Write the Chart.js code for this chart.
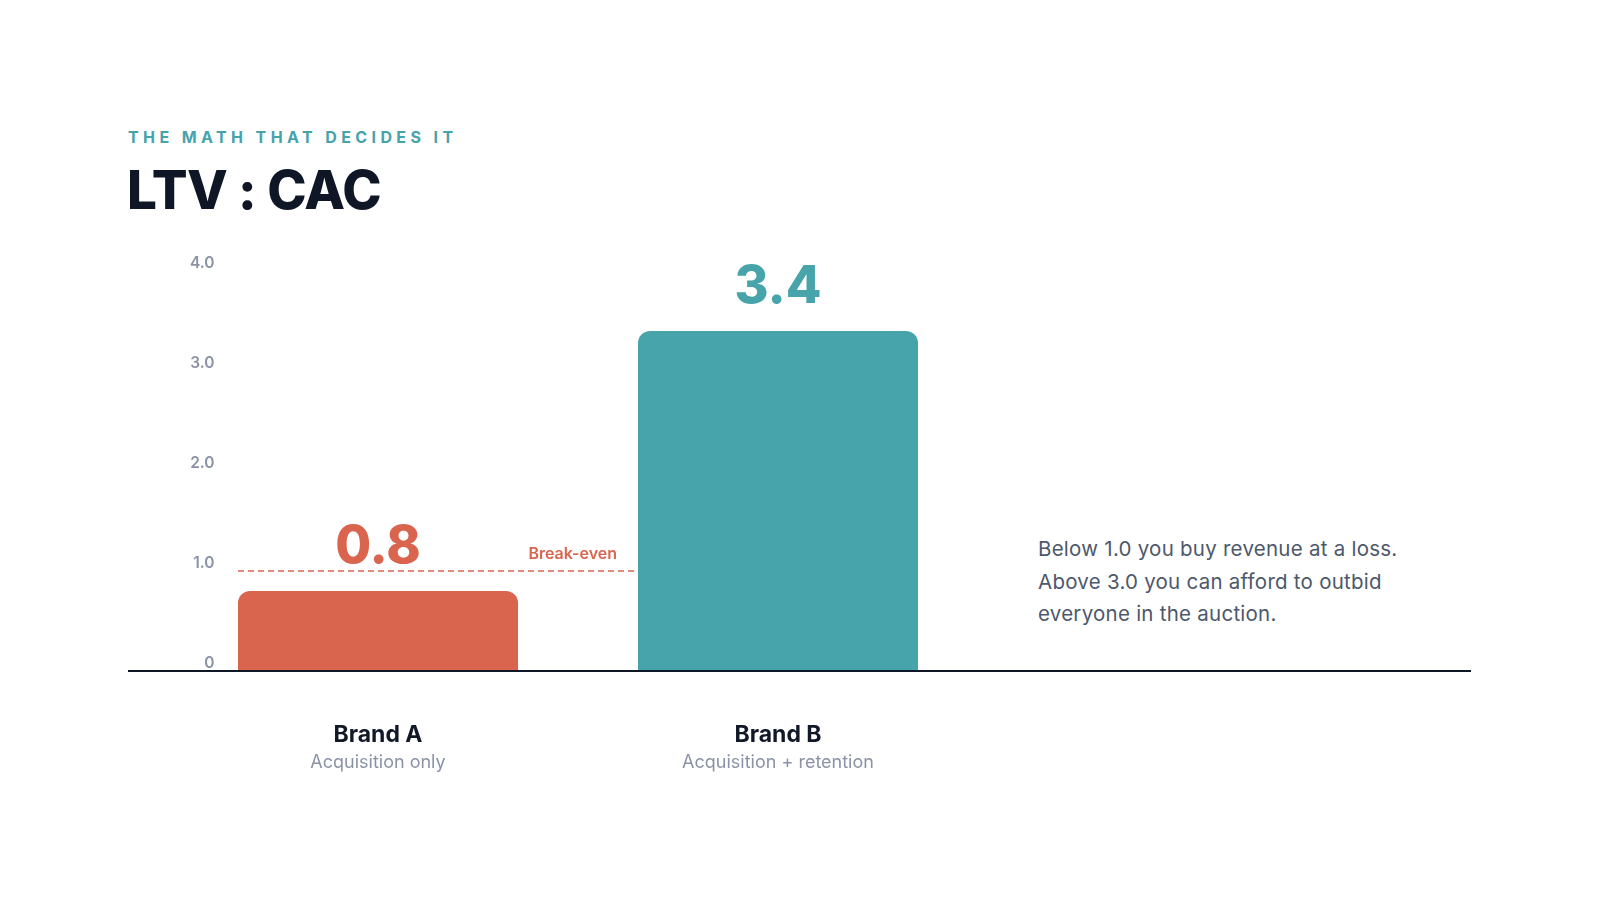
<!DOCTYPE html>
<html>
<head>
<meta charset="utf-8">
<script src="https://cdn.jsdelivr.net/npm/chart.js@4.4.1/dist/chart.umd.min.js"></script>
<style>
  html, body { margin: 0; padding: 0; background: #ffffff; }
  body { width: 1600px; height: 900px; position: relative; overflow: hidden; font-family: Inter, "Noto Sans", sans-serif; }
  .kicker { position: absolute; left: 128px; top: 127px; font-size: 16px; line-height: 20px; font-weight: 700; letter-spacing: 4.4px; color: #46a3ab; }
  .title { position: absolute; left: 127px; top: 162px; font-size: 53px; line-height: 56px; font-weight: 800; letter-spacing: -0.6px; color: #0f1626; }
  .note { position: absolute; left: 1038px; top: 533px; font-size: 20.5px; line-height: 32.5px; letter-spacing: 0.25px; color: #4d586b; width: 440px; }
  #wrap { position: absolute; left: 128px; top: 240px; width: 1343px; height: 560px; }
</style>
</head>
<body>
<div class="kicker">THE MATH THAT DECIDES IT</div>
<div class="title">LTV : CAC</div>
<div class="note">Below 1.0 you buy revenue at a loss.<br>Above 3.0 you can afford to outbid<br>everyone in the auction.</div>
<div id="wrap"><canvas id="chart"></canvas></div>
<script>
var brands = ['Brand A', 'Brand B'];
var descriptions = ['Acquisition only', 'Acquisition + retention'];
var ratios = [0.8, 3.4];
var ratioLabels = ['0.8', '3.4'];
var yTicks = [0, 1.0, 2.0, 3.0, 4.0];
var breakEven = 1.0;

var barColors = ['#d9654f', '#47a4ab'];
var ink = '#0f1626';

var overlay = {
  id: 'overlay',
  afterDatasetsDraw: function (chart) {
    var ctx = chart.ctx;
    var y = chart.scales.y;
    var x = chart.scales.x;
    var bars = chart.getDatasetMeta(0).data;
    ctx.save();

    // baseline runs the full width, past the plot area
    var y0 = y.getPixelForValue(0);
    ctx.strokeStyle = ink;
    ctx.lineWidth = 2;
    ctx.beginPath();
    ctx.moveTo(0, y0);
    ctx.lineTo(chart.width, y0);
    ctx.stroke();

    // break-even line
    var yb = y.getPixelForValue(breakEven);
    var xa = bars[0].x - bars[0].width / 2;
    var xb = bars[1].x - bars[1].width / 2;
    ctx.strokeStyle = barColors[0];
    ctx.lineWidth = 1.5;
    ctx.setLineDash([6, 4]);
    ctx.beginPath();
    ctx.moveTo(xa, yb);
    ctx.lineTo(xb, yb);
    ctx.stroke();
    ctx.setLineDash([]);
    ctx.fillStyle = barColors[0];
    ctx.font = '600 16px Inter, "Noto Sans", sans-serif';
    ctx.textAlign = 'right';
    ctx.textBaseline = 'middle';
    ctx.fillText('Break-even', xb - 21, yb - 17);

    // big value labels
    ctx.textAlign = 'center';
    ctx.font = '800 52px Inter, "Noto Sans", sans-serif';
    bars.forEach(function (bar, i) {
      ctx.fillStyle = barColors[i];
      ctx.fillText(ratioLabels[i], bar.x, bar.y - 44);
    });

    // category descriptions
    ctx.font = '400 18px Inter, "Noto Sans", sans-serif';
    ctx.fillStyle = '#8a93a6';
    descriptions.forEach(function (d, i) {
      ctx.fillText(d, x.getPixelForValue(i), y0 + 92);
    });
    ctx.restore();
  }
};

new Chart(document.getElementById('chart'), {
  type: 'bar',
  data: {
    labels: brands,
    datasets: [{
      data: ratios,
      backgroundColor: barColors,
      borderRadius: { topLeft: 12, topRight: 12, bottomLeft: 0, bottomRight: 0 },
      borderSkipped: 'bottom',
      barPercentage: 0.7,
      categoryPercentage: 1.0
    }]
  },
  options: {
    responsive: true,
    maintainAspectRatio: false,
    animation: false,
    layout: { padding: { top: 31, right: 493, bottom: 53, left: 0 } },
    plugins: { legend: { display: false }, tooltip: { enabled: false } },
    scales: {
      x: {
        grid: { display: false, drawTicks: false },
        border: { display: false },
        ticks: {
          padding: 50,
          color: '#111827',
          font: { family: 'Inter, "Noto Sans", sans-serif', size: 23, weight: '700' }
        },
        afterFit: function (s) { s.height = 76; }
      },
      y: {
        min: 0,
        max: 4,
        afterBuildTicks: function (s) { s.ticks = yTicks.map(function (v) { return { value: v }; }); },
        grid: { display: false, drawTicks: false },
        border: { display: false },
        ticks: {
          mirror: true,
          crossAlign: 'far',
          padding: 12,
          labelOffset: -8,
          color: '#8a93a5',
          font: { family: 'Inter, "Noto Sans", sans-serif', size: 15.5, weight: '600' },
          callback: function (v) { return v === 0 ? '0' : v.toFixed(1); }
        },
        afterFit: function (s) { s.width = 50; }
      }
    }
  },
  plugins: [overlay]
});
</script>
</body>
</html>
